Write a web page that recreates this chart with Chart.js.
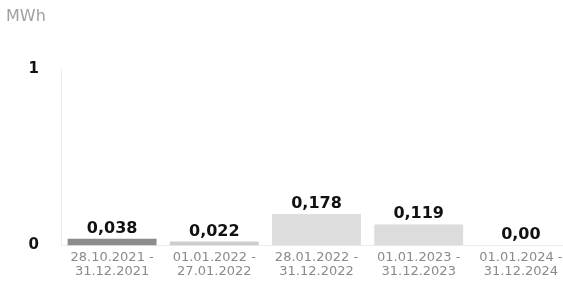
<!DOCTYPE html>
<html lang="de">
<head>
    <meta charset="UTF-8">
    <title>MWh</title>
    <script src="https://cdn.jsdelivr.net/npm/chart.js@4"></script>
    <style>
        html, body { margin: 0; padding: 0; background: #fff; overflow: hidden; }
        .canvas { width: 572px; height: 284px; }
    </style>
</head>
<body>
    <div class="canvas"><canvas id="energy"></canvas></div>

    <script>
        const periods = [
            ["28.10.2021 -", "31.12.2021"],
            ["01.01.2022 -", "27.01.2022"],
            ["28.01.2022 -", "31.12.2022"],
            ["01.01.2023 -", "31.12.2023"],
            ["01.01.2024 -", "31.12.2024"]
        ];
        const values = [0.038, 0.022, 0.178, 0.119, 0];
        const valueLabels = ["0,038", "0,022", "0,178", "0,119", "0,00"];
        const yTicks = [0, 1];
        const barColors = ['#8c8c8c', '#cdcdcd', '#dedede', '#dcdcdc', '#dcdcdc'];

        // draws the numbers above the bars
        const valueText = {
            id: 'valueText',
            afterDatasetsDraw(chart) {
                const ctx = chart.ctx;
                const meta = chart.getDatasetMeta(0);
                ctx.save();
                ctx.font = 'bold 16px "DejaVu Sans"';
                ctx.fillStyle = '#111';
                ctx.textAlign = 'center';
                ctx.textBaseline = 'alphabetic';
                meta.data.forEach((bar, i) => {
                    ctx.fillText(valueLabels[i], bar.x, bar.y - 6);
                });
                ctx.restore();
            }
        };

        const context = document.getElementById('energy').getContext('2d');
        const chart = new Chart(context, {
            type: 'bar',
            data: {
                labels: periods,
                datasets: [{
                    data: values,
                    backgroundColor: barColors,
                    barPercentage: 0.87,
                    categoryPercentage: 1
                }]
            },
            options: {
                responsive: true,
                maintainAspectRatio: false,
                animation: false,
                layout: { padding: { left: 6, right: 0, top: 0, bottom: 0 } },
                plugins: {
                    legend: { display: false },
                    tooltip: { enabled: false },
                    title: {
                        display: true,
                        text: 'MWh',
                        align: 'start',
                        color: '#a0a0a0',
                        font: { family: 'DejaVu Sans', size: 16, weight: 'normal' },
                        padding: { top: 7, bottom: 43 }
                    }
                },
                scales: {
                    x: {
                        grid: { display: false, drawTicks: false },
                        border: { display: true, color: '#ececec' },
                        ticks: {
                            color: '#8a8a8a',
                            font: { family: 'DejaVu Sans', size: 13, lineHeight: 1.1 },
                            padding: 5,
                            maxRotation: 0,
                            autoSkip: false
                        }
                    },
                    y: {
                        min: 0,
                        max: 1,
                        afterBuildTicks: scale => { scale.ticks = yTicks.map(v => ({ value: v })); },
                        afterFit: scale => { scale.width = 55; },
                        grid: { display: false, drawTicks: false },
                        border: { display: true, color: '#ececec' },
                        ticks: {
                            color: '#111',
                            font: { family: 'DejaVu Sans', size: 15, weight: 'bold' },
                            padding: 22
                        }
                    }
                }
            },
            plugins: [valueText]
        });
    </script>
</body>
</html>
